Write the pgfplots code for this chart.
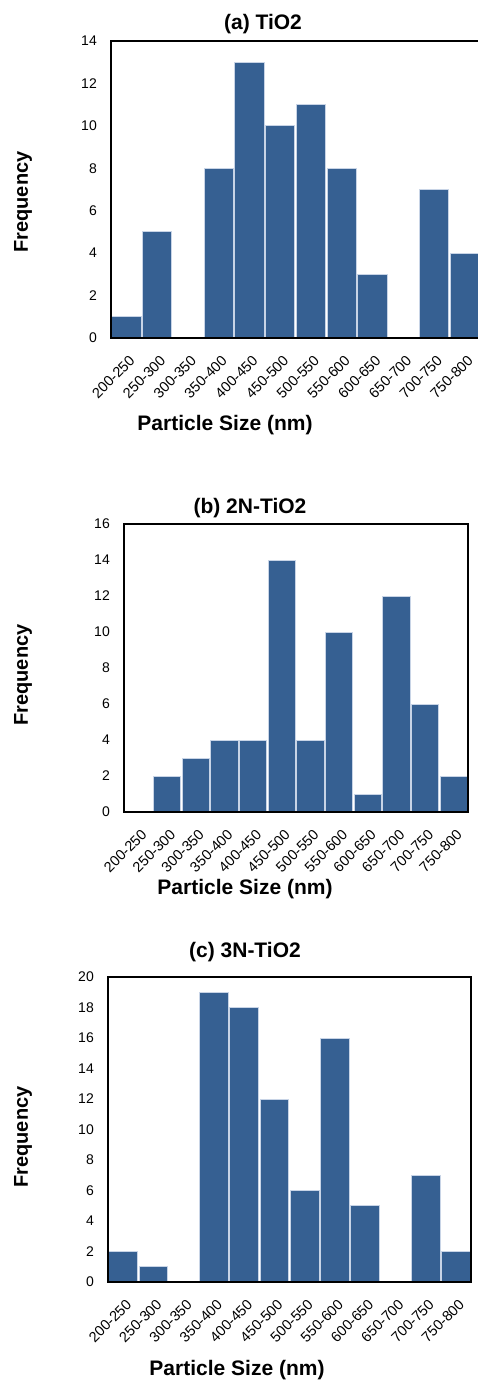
\documentclass[border=0pt]{standalone}
\usepackage{pgfplots}
\pgfplotsset{compat=1.18}
\usepackage{fontspec}
\setmainfont{Liberation Sans}
\definecolor{barblue}{RGB}{54,96,146}
\definecolor{baredge}{RGB}{200,212,230}
\pgfplotsset{
 hist/.style={
  scale only axis, ybar, bar width=0.95, xmin=-0.5, xmax=11.5, ymin=0,
  xtick={0,...,11},
  xticklabels={200-250,250-300,300-350,350-400,400-450,450-500,500-550,550-600,600-650,650-700,700-750,750-800},
  major tick length=0pt,
  axis on top,
  axis line style={line width=1.6pt},
  yticklabel style={font=\fontsize{14}{15}\selectfont, anchor=east, inner sep=0pt, xshift=-14pt},
  xticklabel style={font=\fontsize{14.5}{15}\selectfont, rotate=45, anchor=north east, inner sep=0pt, xshift=-10pt, yshift=-13pt},
  /pgf/number format/assume math mode=true,
  anchor=south west,
 },
 hbar/.style={fill=barblue, draw=baredge, line width=0.9pt},
}
\newcommand{\bft}{\bfseries\fontsize{21}{25}\selectfont}
\newcommand{\bfy}{\bfseries\fontsize{20}{24}\selectfont}
\begin{document}
\begin{tikzpicture}
\useasboundingbox (0,0) rectangle (478pt,-1381pt);
% (a)
\begin{axis}[hist, at={(111pt,-338pt)}, width=369pt, height=297pt, ymax=14, ytick={0,2,...,14}]
\addplot[hbar] coordinates {(0,1) (1,5) (2,0) (3,8) (4,13) (5,10) (6,11) (7,8) (8,3) (9,0) (10,7) (11,4)};
\end{axis}
\node[font=\bft] at (263pt,-24pt) {(a) TiO2};
\node[font=\bft] at (225pt,-425pt) {Particle Size (nm)};
\node[font=\bfy, rotate=90] at (23pt,-202pt) {Frequency};
% (b)
\begin{axis}[hist, at={(124pt,-812pt)}, width=344pt, height=288pt, ymax=16, ytick={0,2,...,16}]
\addplot[hbar] coordinates {(0,0) (1,2) (2,3) (3,4) (4,4) (5,14) (6,4) (7,10) (8,1) (9,12) (10,6) (11,2)};
\end{axis}
\node[font=\bft] at (250pt,-508pt) {(b) 2N-TiO2};
\node[font=\bft] at (245pt,-889pt) {Particle Size (nm)};
\node[font=\bfy, rotate=90] at (23pt,-675pt) {Frequency};
% (c)
\begin{axis}[hist, at={(108pt,-1282pt)}, width=363pt, height=305pt, ymax=20, ytick={0,2,...,20}]
\addplot[hbar] coordinates {(0,2) (1,1) (2,0) (3,19) (4,18) (5,12) (6,6) (7,16) (8,5) (9,0) (10,7) (11,2)};
\end{axis}
\node[font=\bft] at (245pt,-952pt) {(c) 3N-TiO2};
\node[font=\bft] at (237pt,-1370pt) {Particle Size (nm)};
\node[font=\bfy, rotate=90] at (23pt,-1137pt) {Frequency};
\end{tikzpicture}
\end{document}
